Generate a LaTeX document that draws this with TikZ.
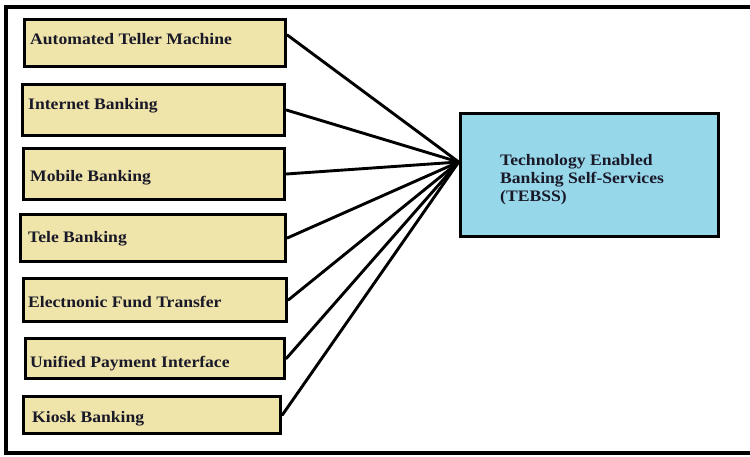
\documentclass[tikz,border=0pt]{standalone}
\usepackage{fontspec}
\setmainfont{Liberation Serif}[FakeStretch=1.1]
\definecolor{boxfill}{RGB}{239,228,170}
\definecolor{hubfill}{RGB}{151,215,234}
\definecolor{txt}{RGB}{25,25,40}
\begin{document}
\begin{tikzpicture}[x=1pt,y=-1pt,
  item/.style={draw=black, line width=3.6pt, fill=boxfill, inner sep=0pt},
  hubbox/.style={draw=black, line width=3.6pt, fill=hubfill, inner sep=0pt},
  lbl/.style={anchor=base west, inner sep=0pt, text=txt, font=\fontsize{16}{18}\selectfont\bfseries},
  link/.style={line width=2.9pt, line cap=round}]
\clip (0,0) rectangle (750,457);
\fill[white] (0,0) rectangle (750,457);
\draw[line width=3.2pt] (6,7) rectangle (780,453);
% source boxes
\node[item, minimum width=261pt, minimum height=47pt] (atm) at (155,43) {};
\node[item, minimum width=262pt, minimum height=51pt] (inet) at (153.5,110) {};
\node[item, minimum width=261pt, minimum height=51pt] (mob) at (154,174) {};
\node[item, minimum width=265pt, minimum height=47pt] (tele) at (153,238) {};
\node[item, minimum width=263pt, minimum height=43pt] (eft) at (155,300) {};
\node[item, minimum width=259pt, minimum height=40pt] (upi) at (155,358.5) {};
\node[item, minimum width=257pt, minimum height=37pt] (kiosk) at (152,415) {};
% target box
\node[hubbox, minimum width=258pt, minimum height=123pt] (tebss) at (589.5,175) {};
% labels
\node[lbl] (atmT) at (30,45) {Automated Teller Machine};
\node[lbl] (inetT) at (28,110) {Internet Banking};
\node[lbl] (mobT) at (30,182) {Mobile Banking};
\node[lbl] (teleT) at (28,243) {Tele Banking};
\node[lbl] (eftT) at (28,307) {Electnonic Fund Transfer};
\node[lbl] (upiT) at (30,367) {Unified Payment Interface};
\node[lbl] (kioskT) at (32,422) {Kiosk Banking};
\node[lbl, align=left, anchor=north west] (tebssT) at (500,154) {Technology Enabled\\Banking Self-Services\\(TEBSS)};
% connectors
\coordinate (hub) at ([yshift=13pt]tebss.west);
\draw[link] ([yshift=8pt]atm.east) -- (hub);
\draw[link] (inet.east) -- (hub);
\draw[link] (mob.east) -- (hub);
\draw[link] (tele.east) -- (hub);
\draw[link] (eft.east) -- (hub);
\draw[link] (upi.east) -- (hub);
\draw[link] (kiosk.east) -- (hub);
\end{tikzpicture}
\end{document}
